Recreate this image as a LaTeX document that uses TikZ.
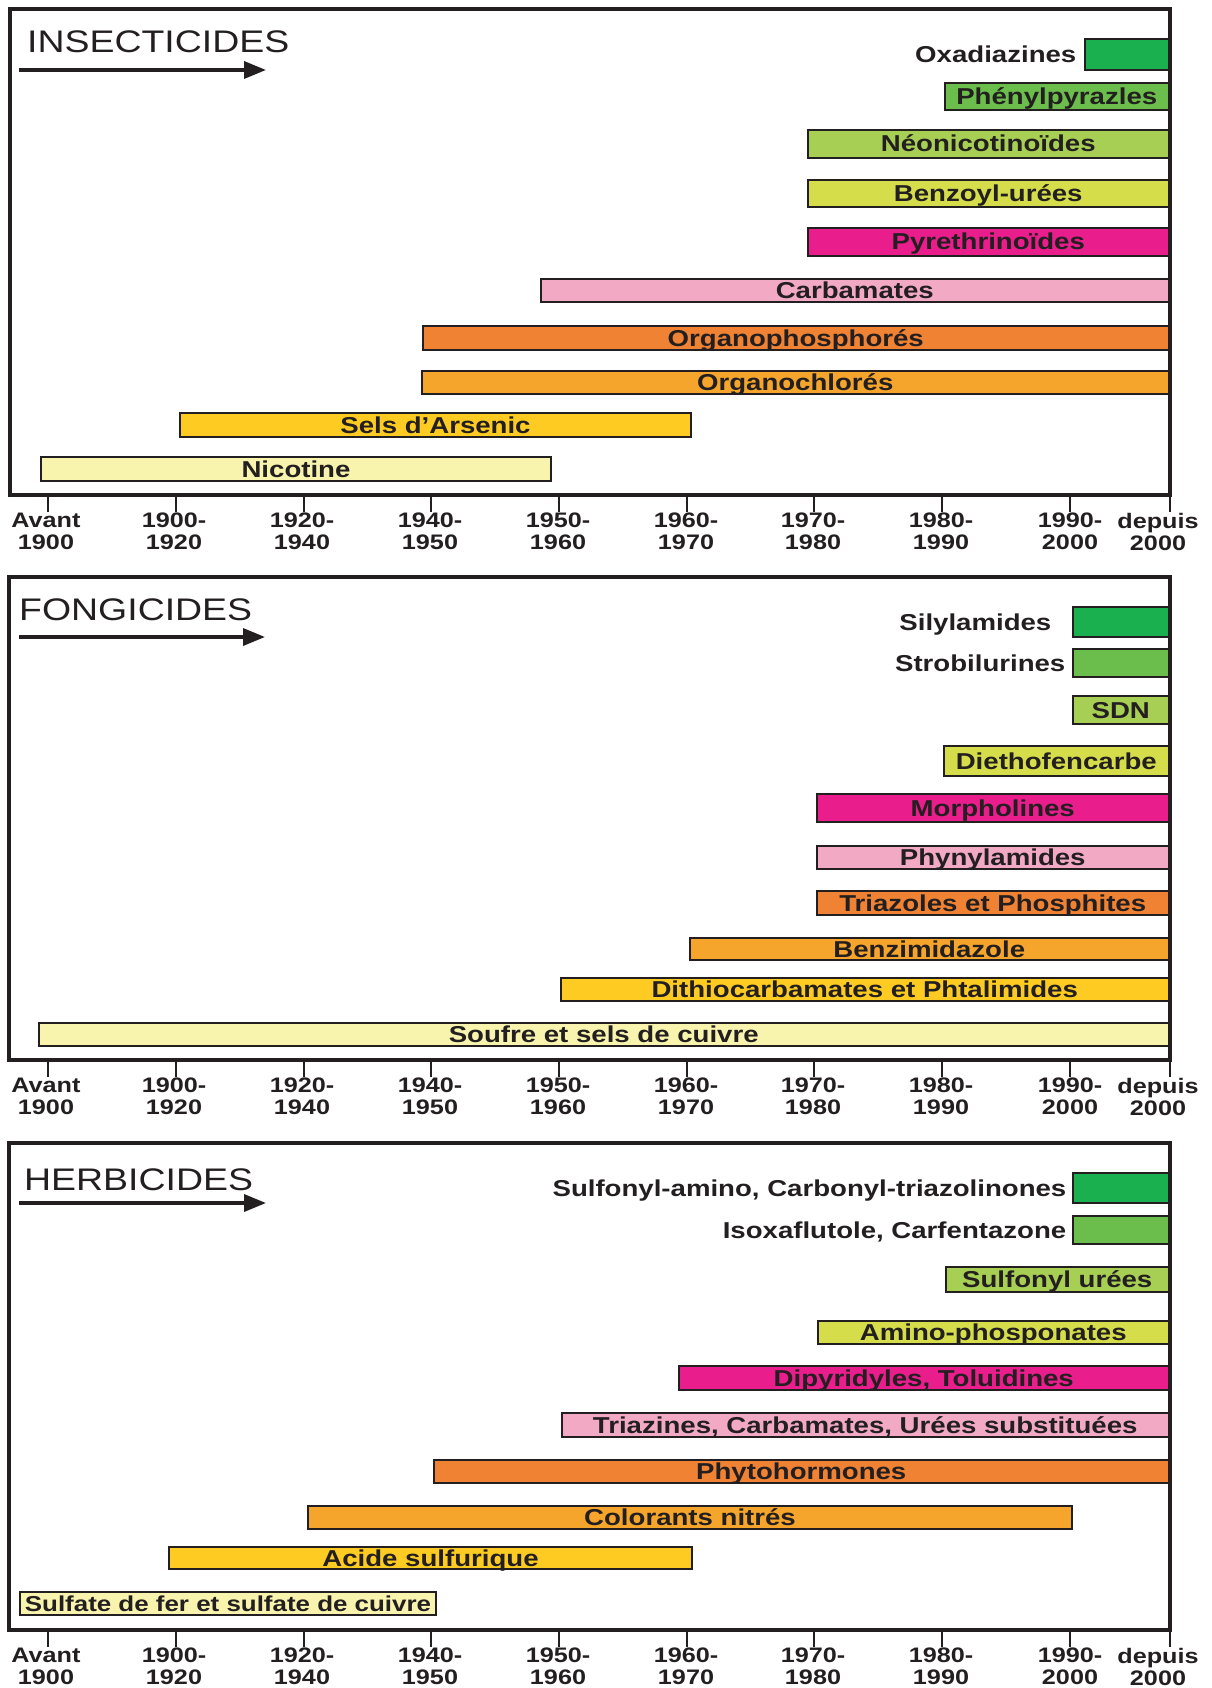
\documentclass[tikz,border=0pt]{standalone}
\usepackage{fontspec}
\setmainfont{Liberation Sans}[FakeStretch=1.2]
\usepackage{xcolor}
\usetikzlibrary{arrows.meta, positioning}

\definecolor{trait}{HTML}{231F20}
\definecolor{vfonce}{HTML}{1AAF4F}
\definecolor{vmoyen}{HTML}{6BBE4C}
\definecolor{vclair}{HTML}{A7CF53}
\definecolor{vjaune}{HTML}{D5DE4A}
\definecolor{magenta}{HTML}{EA1D8C}
\definecolor{rose}{HTML}{F2A9C4}
\definecolor{orange}{HTML}{F08234}
\definecolor{orclair}{HTML}{F5A52C}
\definecolor{jaune}{HTML}{FDCB22}
\definecolor{jpale}{HTML}{F8F3AD}

\newcommand{\fbar}{\fontsize{23}{25}\selectfont\bfseries}
\newcommand{\fbarpetit}{\fontsize{21.6}{24}\selectfont\bfseries}
\newcommand{\fannee}{\fontsize{21}{22}\selectfont\bfseries}
\newcommand{\ftitre}{\fontsize{31.2}{33}\selectfont}

% axe des dates sous un cadre : #1 prefixe, #2 bas du cadre
\newcommand{\axe}[2]{%
	\foreach \x/\xl/\t [count=\i] in {48/46/{Avant\\1900}, 176/174/{1900-\\1920}, 304/302/{1920-\\1940}, 431/430/{1940-\\1950}, 559/558/{1950-\\1960}, 687/686/{1960-\\1970}, 814/813/{1970-\\1980}, 942/941/{1980-\\1990}, 1070/1070/{1990-\\2000}, 1170/1158/{depuis\\2000}}{
		\draw[tick] (\x,#2) -- ++(0,17);
		\node[annee] (#1-\i) at (\xl,#2+18) {\t};
	}%
}

\begin{document}
\begin{tikzpicture}[x=1pt, y=-1pt,
		cadre/.style={draw=trait, line width=3.5pt},
		tick/.style={draw=trait, line width=2.5pt},
		annee/.style={anchor=north, align=center, inner sep=0pt, font=\fannee, text=trait},
		titre/.style={anchor=base west, inner sep=0pt, font=\ftitre, text=trait},
		fleche/.style={draw=trait, line width=3.5pt, -{Triangle[length=22pt, width=17pt]}},
		barre/.style={draw=trait, line width=2.5pt, inner sep=0pt, text=trait, font=\fbar, text height=16pt, text depth=0pt},
		fin/.style={barre, anchor=east},
		nom/.style={inner sep=0pt, font=\fbar, text=trait, text height=16pt, text depth=0pt}]
	\useasboundingbox (0,0) rectangle (1211,1688);
	
	% INSECTICIDES
	\draw[cadre] (10,9) rectangle (1170,495);
	\node[titre] (tins) at (27,53) {INSECTICIDES};
	\coordinate (ins0) at (19,70);
	\coordinate (ins1) at (266,70);
	\draw[fleche] (ins0) -- (ins1);
	
	\node[fin, fill=vfonce, minimum width=84pt, minimum height=31pt] (oxa) at (1170,54.5) {};
	\node[nom, left=7pt of oxa] (loxa) {Oxadiazines};
	\node[fin, fill=vmoyen, minimum width=224pt, minimum height=27pt] (phen) at (1170,96.5) {Phénylpyrazles};
	\node[fin, fill=vclair, minimum width=361pt, minimum height=28pt] (neo) at (1170,144) {Néonicotinoïdes};
	\node[fin, fill=vjaune, minimum width=361pt, minimum height=27pt] (benz) at (1170,193.5) {Benzoyl-urées};
	\node[fin, fill=magenta, minimum width=361pt, minimum height=28pt] (pyr) at (1170,242) {Pyrethrinoïdes};
	\node[fin, fill=rose, minimum width=628pt, minimum height=23pt] (carb) at (1170,290.5) {Carbamates};
	\node[fin, fill=orange, minimum width=746pt, minimum height=24pt] (ophos) at (1170,338) {Organophosphorés};
	\node[fin, fill=orclair, minimum width=747pt, minimum height=23pt] (ochl) at (1170,382.5) {Organochlorés};
	\node[barre, fill=jaune, minimum width=511pt, minimum height=24pt] (arsen) at (435.5,425) {Sels d’Arsenic};
	\node[barre, fill=jpale, minimum width=510pt, minimum height=24pt] (nico) at (296,469) {Nicotine};
	
	\axe{a}{495}
	
	% FONGICIDES
	\draw[cadre] (9,577) rectangle (1170,1060);
	\node[titre] (tfon) at (19,620) {FONGICIDES};
	\coordinate (fon0) at (19,637);
	\coordinate (fon1) at (265,637);
	\draw[fleche] (fon0) -- (fon1);
	
	\node[fin, fill=vfonce, minimum width=96pt, minimum height=30pt] (sily) at (1170,622) {};
	\node[nom, left=20pt of sily] (lsily) {Silylamides};
	\node[fin, fill=vmoyen, minimum width=96pt, minimum height=28pt] (strob) at (1170,663) {};
	\node[nom, left=6pt of strob] (lstrob) {Strobilurines};
	\node[fin, fill=vclair, minimum width=96pt, minimum height=28pt] (sdn) at (1170,710) {SDN};
	\node[fin, fill=vjaune, minimum width=225pt, minimum height=30pt] (diet) at (1170,761) {Diethofencarbe};
	\node[fin, fill=magenta, minimum width=352pt, minimum height=28pt] (morph) at (1170,808) {Morpholines};
	\node[fin, fill=rose, minimum width=352pt, minimum height=23pt] (phyn) at (1170,857.5) {Phynylamides};
	\node[fin, fill=orange, minimum width=352pt, minimum height=24pt] (triaz) at (1170,903) {Triazoles et Phosphites};
	\node[fin, fill=orclair, minimum width=479pt, minimum height=22pt] (benzi) at (1170,949) {Benzimidazole};
	\node[fin, fill=jaune, minimum width=608pt, minimum height=23pt] (dithio) at (1170,989.5) {Dithiocarbamates et Phtalimides};
	\node[fin, fill=jpale, minimum width=1130pt, minimum height=23pt] (soufre) at (1170,1034.5) {Soufre et sels de cuivre};
	
	\axe{f}{1060}
	
	% HERBICIDES
	\draw[cadre] (9,1143) rectangle (1170,1630);
	\node[titre] (ther) at (24,1190) {HERBICIDES};
	\coordinate (her0) at (19,1203);
	\coordinate (her1) at (266,1203);
	\draw[fleche] (her0) -- (her1);
	
	\node[fin, fill=vfonce, minimum width=96pt, minimum height=30pt] (sulfam) at (1170,1188) {};
	\node[nom, left=5pt of sulfam] (lsulfam) {Sulfonyl-amino, Carbonyl-triazolinones};
	\node[fin, fill=vmoyen, minimum width=96pt, minimum height=28pt] (isox) at (1170,1230) {};
	\node[nom, left=5pt of isox] (lisox) {Isoxaflutole, Carfentazone};
	\node[fin, fill=vclair, minimum width=223pt, minimum height=25pt] (sulfu) at (1170,1279.5) {Sulfonyl urées};
	\node[fin, fill=vjaune, minimum width=351pt, minimum height=23pt] (amino) at (1170,1332.5) {Amino-phosponates};
	\node[fin, fill=magenta, minimum width=490pt, minimum height=24pt] (dipy) at (1170,1378) {Dipyridyles, Toluidines};
	\node[fin, fill=rose, minimum width=607pt, minimum height=24pt] (triazi) at (1170,1425) {Triazines, Carbamates, Urées substituées};
	\node[fin, fill=orange, minimum width=735pt, minimum height=23pt] (phyto) at (1170,1471.5) {Phytohormones};
	\node[barre, fill=orclair, minimum width=764pt, minimum height=23pt] (color) at (690,1517.5) {Colorants nitrés};
	\node[barre, fill=jaune, minimum width=523pt, minimum height=22pt] (acide) at (430.5,1558) {Acide sulfurique};
	\node[barre, fill=jpale, minimum width=416pt, minimum height=23pt, font=\fbarpetit] (sulfate) at (228,1603.5) {Sulfate de fer et sulfate de cuivre};
	
	\axe{h}{1630}
\end{tikzpicture}
\end{document}
